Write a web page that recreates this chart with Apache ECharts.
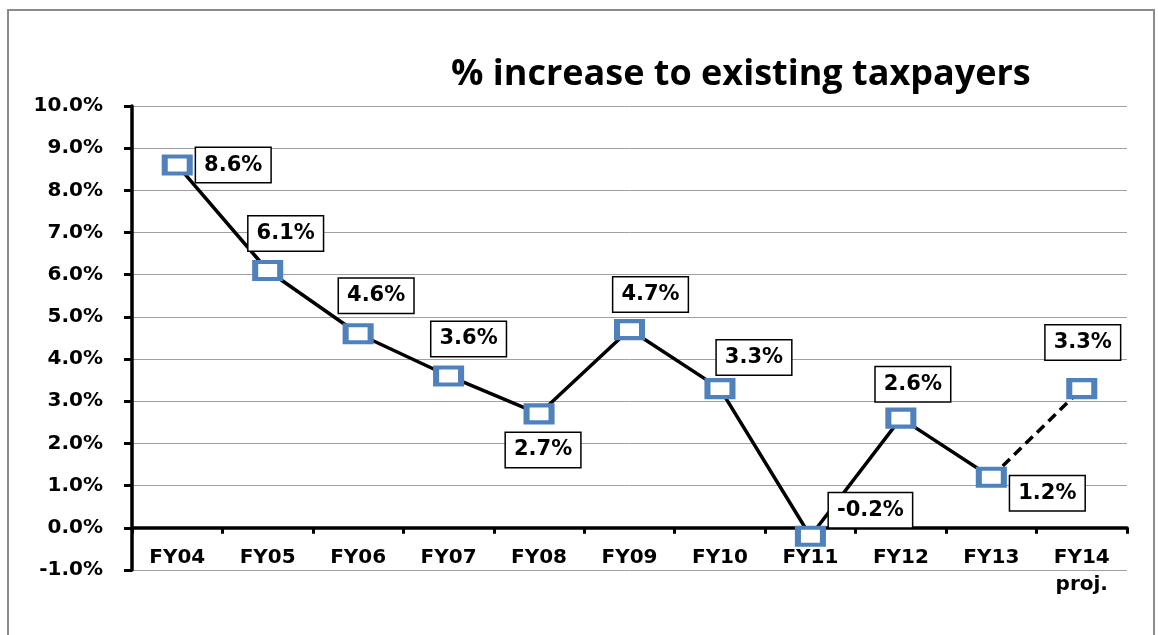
<!DOCTYPE html>
<html>
<head>
<meta charset="utf-8">
<script src="https://cdn.jsdelivr.net/npm/echarts@6/dist/echarts.min.js"></script>
<style>
  html, body { margin: 0; padding: 0; background: #fff; }
  #chart { width: 1158px; height: 635px; }
</style>
</head>
<body>
<div id="chart"></div>
<script>
// Fiscal years (last one is a projection)
const categories = ['FY04', 'FY05', 'FY06', 'FY07', 'FY08', 'FY09', 'FY10', 'FY11', 'FY12', 'FY13', 'FY14\nproj.'];
// Percent increase to existing taxpayers
const values = [8.6, 6.1, 4.6, 3.6, 2.7, 4.7, 3.3, -0.2, 2.6, 1.2, 3.3];
// Y axis range and step (percent)
const yMin = -1, yMax = 10, yStep = 1;
// Index where the projected (dashed) segment starts
const projStart = 9;

// Where each value box sits relative to its marker, in px
const labelOffsets = [
  [56, 0], [18, -37], [18, -38], [20, -37], [4, 36], [21, -35],
  [34, -31], [60, -26], [12, -34], [56, 16], [1, -46]
];

const solidLine = values.map((v, i) => (i <= projStart ? v : '-'));
const dashedLine = values.map((v, i) => (i >= projStart ? v : '-'));
const markerData = values.map((v, i) => ({
  value: v,
  label: { offset: labelOffsets[i] }
}));

const labelFont = 'DejaVu Sans, Verdana, sans-serif';

const chart = echarts.init(document.getElementById('chart'), null, { renderer: 'canvas' });
chart.setOption({
  animation: false,
  backgroundColor: '#ffffff',
  title: {
    text: '% increase to existing taxpayers',
    left: 446,
    top: 52,
    textStyle: {
      fontFamily: 'Open Sans, sans-serif',
      fontWeight: 'bold',
      fontSize: 36,
      color: '#000'
    }
  },
  graphic: [{
    type: 'rect',
    shape: { x: 8, y: 10, width: 1146, height: 640 },
    style: { fill: 'none', stroke: '#8c8c8c', lineWidth: 2 },
    silent: true,
    z: -1
  }],
  grid: { left: 132, right: 31, top: 106, bottom: 65, outerBoundsMode: 'none', containLabel: false },
  xAxis: {
    type: 'category',
    data: categories,
    boundaryGap: true,
    axisLine: { onZero: true, lineStyle: { color: '#000', width: 3.5 } },
    axisTick: { show: true, length: 6, inside: false, lineStyle: { color: '#000', width: 3 } },
    axisLabel: {
      // labels sit between the zero line and the bottom grid line
      margin: -26,
      fontFamily: labelFont,
      fontWeight: 'bold',
      fontSize: 20,
      lineHeight: 27,
      color: '#000'
    },
    splitLine: { show: false }
  },
  yAxis: {
    type: 'value',
    min: yMin,
    max: yMax,
    interval: yStep,
    axisLine: { show: true, lineStyle: { color: '#000', width: 3.5 } },
    axisTick: { show: true, length: 8, inside: false, lineStyle: { color: '#000', width: 3 } },
    axisLabel: {
      margin: 29,
      formatter: v => v.toFixed(1) + '%',
      fontFamily: labelFont,
      fontWeight: 'bold',
      fontSize: 20,
      color: '#000'
    },
    splitLine: { show: true, lineStyle: { color: '#a0a0a0', width: 1 } }
  },
  series: [
    {
      name: 'actual',
      type: 'line',
      data: solidLine,
      symbol: 'none',
      lineStyle: { color: '#000', width: 3.5 },
      z: 2
    },
    {
      name: 'projected',
      type: 'line',
      data: dashedLine,
      symbol: 'none',
      lineStyle: { color: '#000', width: 3.5, type: [10, 6] },
      z: 2
    },
    {
      name: 'markers',
      type: 'scatter',
      data: markerData,
      symbol: 'rect',
      symbolSize: [25, 17],
      itemStyle: { color: '#ffffff', borderColor: '#4F81BD', borderWidth: 5, opacity: 1 },
      label: {
        show: true,
        position: 'inside',
        formatter: p => p.value.toFixed(1) + '%',
        fontFamily: labelFont,
        fontWeight: 'bold',
        fontSize: 21,
        lineHeight: 22,
        color: '#000',
        backgroundColor: '#fff',
        borderColor: '#000',
        borderWidth: 1.5,
        padding: [6, 8, 6, 8]
      },
      z: 3
    }
  ]
});
</script>
</body>
</html>
